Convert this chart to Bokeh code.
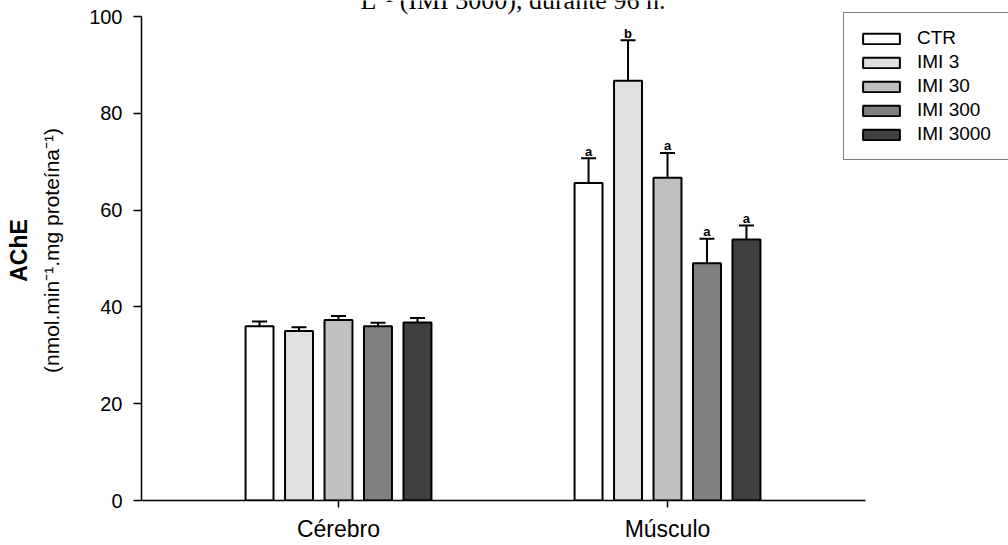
from bokeh.plotting import figure
from bokeh.models import (ColumnDataSource, Range1d, FixedTicker, Legend, LegendItem,
                          Whisker, TeeHead, Label, Title)
from bokeh.core.properties import value
from bokeh.embed import file_html
from bokeh.resources import INLINE

# ---------------- data ----------------
groups = ["Cérebro", "Músculo"]
group_pos = [1, 2]
series = ["CTR", "IMI 3", "IMI 30", "IMI 300", "IMI 3000"]
ctr_mean = [36.0, 65.6]
imi3_mean = [35.0, 86.7]
imi30_mean = [37.3, 66.7]
imi300_mean = [36.0, 49.0]
imi3000_mean = [36.8, 53.9]
ctr_err = [1.0, 5.1]
imi3_err = [0.8, 8.4]
imi30_err = [0.8, 5.1]
imi300_err = [0.7, 5.1]
imi3000_err = [0.9, 2.9]
ctr_letter = ["", "a"]
imi3_letter = ["", "b"]
imi30_letter = ["", "a"]
imi300_letter = ["", "a"]
imi3000_letter = ["", "a"]
y_ticks = [0, 20, 40, 60, 80, 100]

means = [ctr_mean, imi3_mean, imi30_mean, imi300_mean, imi3000_mean]
errs = [ctr_err, imi3_err, imi30_err, imi300_err, imi3000_err]
letters = [ctr_letter, imi3_letter, imi30_letter, imi300_letter, imi3000_letter]
colors = ["#ffffff", "#e0e0e0", "#c0c0c0", "#808080", "#404040"]

FONT = "Liberation Sans"

X0, X_AXIS_END = 0.4012, 2.6019
PX_PER_X = 329.0
PX_PER_Y = 4.84
FRAME_W, FRAME_H = 1008 - 141, 500

p = figure(width=1008, height=545,
           x_range=Range1d(X0, X0 + FRAME_W / PX_PER_X),
           y_range=Range1d(0, FRAME_H / PX_PER_Y),
           output_backend="svg", toolbar_location=None,
           min_border_left=141, min_border_right=0, min_border_top=0, min_border_bottom=45)
p.outline_line_color = None
p.xgrid.visible = False
p.ygrid.visible = False

offsets = [-0.24, -0.12, 0.0, 0.12, 0.24]
renderers = []
for i, name in enumerate(series):
    src = ColumnDataSource(dict(
        x=[g + offsets[i] for g in group_pos],
        top=means[i],
        upper=[m + e for m, e in zip(means[i], errs[i])],
        letter=letters[i],
    ))
    p.add_layout(Whisker(source=src, base="x", lower="top", upper="upper",
                         line_color="black", line_width=2, lower_head=None,
                         upper_head=TeeHead(size=15, line_width=2, line_color="black")))
    r = p.vbar(x="x", top="top", bottom=0, width=0.085, source=src,
               fill_color=colors[i], line_color="black", line_width=2)
    renderers.append(r)
    p.text(x="x", y="upper", text="letter", source=src, text_font=value(FONT),
           text_font_style="bold", text_font_size="13px", text_align="center",
           text_baseline="alphabetic", y_offset=-7, text_color="black")

# axes
p.xaxis.bounds = (X0, X_AXIS_END)
p.xaxis.ticker = FixedTicker(ticks=group_pos)
p.xaxis.major_label_overrides = {g: n for g, n in zip(group_pos, groups)}
p.xaxis.major_tick_out = 7
p.xaxis.major_tick_in = 0
p.xaxis.minor_tick_line_color = None
p.xaxis.major_label_text_font = FONT
p.xaxis.major_label_text_font_size = "23px"
p.xaxis.major_label_text_color = "black"
p.xaxis.major_label_standoff = 8
p.xaxis.axis_line_width = 1.5
p.xaxis.major_tick_line_width = 1.5

p.yaxis.bounds = (0, 100)
p.yaxis.ticker = FixedTicker(ticks=y_ticks)
p.yaxis.major_tick_out = 8
p.yaxis.major_tick_in = 0
p.yaxis.minor_tick_line_color = None
p.yaxis.major_label_text_font = FONT
p.yaxis.major_label_text_font_size = "20px"
p.yaxis.major_label_text_color = "black"
p.yaxis.major_label_standoff = 11
p.yaxis.axis_line_width = 1.5
p.yaxis.major_tick_line_width = 1.5

# y-axis titles (two lines, different weights)
p.add_layout(Title(text="(nmol.min⁻¹.mg proteína⁻¹)", align="center", offset=-10,
                   text_font=FONT, text_font_size="21px", text_font_style="normal",
                   text_color="black", standoff=47), "left")
p.add_layout(Title(text="AChE", align="center", offset=-8,
                   text_font=FONT, text_font_size="23px", text_font_style="bold",
                   text_color="black", standoff=-35), "left")

legend = Legend(items=[LegendItem(label=s, renderers=[r]) for s, r in zip(series, renderers)],
                location=(702, 340), margin=0, padding=14, spacing=2,
                glyph_width=46, glyph_height=13, label_standoff=13, label_height=20,
                label_width=130, label_text_font=FONT, label_text_font_size="19px",
                label_text_color="black",
                border_line_color="black", border_line_width=1.5, background_fill_color="white",
                background_fill_alpha=1)
p.add_layout(legend)

# caption fragment at the top edge (cut off in the original image)
p.add_layout(Label(x=219, y=500, x_units="screen", y_units="screen",
                   text="L⁻¹ (IMI 3000), durante 96 h.", text_font="Liberation Serif",
                   text_font_size="26px", text_baseline="alphabetic", text_color="black"))

open("out.html", "w").write(file_html(p, INLINE))
